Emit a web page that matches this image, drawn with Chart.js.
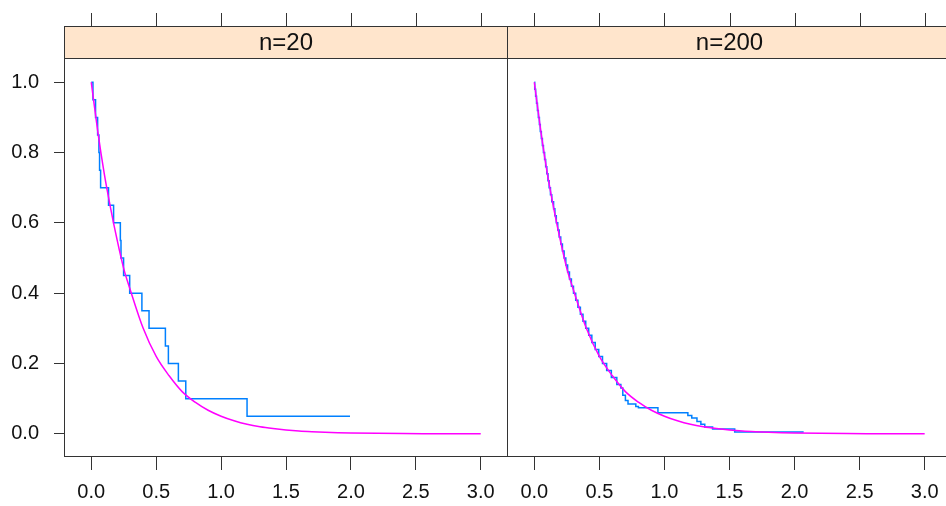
<!DOCTYPE html>
<html>
<head>
<meta charset="utf-8">
<script src="https://cdn.jsdelivr.net/npm/chart.js@4.4.0/dist/chart.umd.min.js"></script>
<style>
  html, body { margin: 0; padding: 0; background: #fff; overflow: hidden; }
  #wrap { position: relative; width: 946px; height: 506px; overflow: hidden; }
  #c1 { position: absolute; left: 0; top: 0; }
  #c2 { position: absolute; left: 500px; top: 0; }
</style>
</head>
<body>
<div id="wrap">
  <canvas id="c1" width="510" height="506"></canvas>
  <canvas id="c2" width="460" height="506"></canvas>
</div>
<script>
// panel labels and axis ticks
const panelLabels = ['n=20', 'n=200'];
const xTicks = [0, 0.5, 1.0, 1.5, 2.0, 2.5, 3.0];
const yTicks = [0, 0.2, 0.4, 0.6, 0.8, 1.0];

// empirical survival, n=20 (drop times and level after drop)
const time20 = [0, 0.013, 0.033, 0.049, 0.059, 0.064, 0.072, 0.133, 0.172, 0.224, 0.229,
  0.249, 0.296, 0.39, 0.445, 0.571, 0.594, 0.671, 0.728, 1.20, 1.993];
const surv20 = [1.0, 0.95, 0.90, 0.85, 0.80, 0.75, 0.70, 0.65, 0.60, 0.55, 0.50,
  0.45, 0.40, 0.35, 0.30, 0.25, 0.20, 0.15, 0.10, 0.05, 0.05];

// empirical survival, n=200
const time200 = [0, 0.003, 0.010, 0.017, 0.024, 0.031, 0.039, 0.046, 0.054, 0.062, 0.070,
  0.079, 0.087, 0.096, 0.105, 0.114, 0.124, 0.134, 0.148, 0.158, 0.169,
  0.180, 0.191, 0.203, 0.216, 0.229, 0.242, 0.256, 0.270, 0.285, 0.301,
  0.318, 0.335, 0.354, 0.374, 0.395, 0.418, 0.442, 0.468, 0.495, 0.524,
  0.556, 0.592, 0.634, 0.665, 0.68, 0.70, 0.72, 0.78, 0.80, 0.95,
  1.18, 1.21, 1.25, 1.28, 1.31, 1.37, 1.54, 2.07];
const surv200 = [1.0, 0.98, 0.96, 0.94, 0.92, 0.90, 0.88, 0.86, 0.84, 0.82, 0.80,
  0.78, 0.76, 0.74, 0.72, 0.70, 0.68, 0.66, 0.64, 0.62, 0.60,
  0.58, 0.56, 0.54, 0.52, 0.50, 0.48, 0.46, 0.44, 0.42, 0.40,
  0.38, 0.36, 0.34, 0.32, 0.30, 0.28, 0.26, 0.24, 0.22, 0.20,
  0.18, 0.16, 0.14, 0.13, 0.11, 0.095, 0.085, 0.078, 0.074, 0.06,
  0.052, 0.045, 0.035, 0.027, 0.019, 0.014, 0.005, 0.005];

// theoretical curve (same in both panels)
const curveX = [0, 0.05, 0.1, 0.15, 0.2, 0.25, 0.3, 0.4, 0.5, 0.6, 0.7, 0.8, 0.9, 1.0,
  1.1, 1.2, 1.3, 1.4, 1.5, 1.6, 1.7, 1.8, 1.9, 2.0, 2.2, 2.4, 2.6, 2.8, 3.0];
const curveY = [1.0, 0.86, 0.74, 0.64, 0.55, 0.47, 0.41, 0.30, 0.22, 0.165, 0.12, 0.09, 0.067, 0.05,
  0.037, 0.027, 0.02, 0.015, 0.011, 0.008, 0.006, 0.0045, 0.0033, 0.0025, 0.0014, 0.0007, 0.0004, 0.0002, 0.0001];

const lineCol = '#333333';
const stripTop = 26;

Chart.defaults.font.family = '"Liberation Sans", Arial, sans-serif';
Chart.defaults.color = '#111111';

function toPoints(xs, ys) {
  let pts = [];
  for (let i = 0; i < xs.length; ++i) {
    pts.push({ x: xs[i], y: ys[i] });
  }
  return pts;
}

// strip, panel box and top tick marks, lattice style
const latticePanel = {
  id: 'latticePanel',
  afterDraw(chart, args, opts) {
    let ctx = chart.ctx;
    let a = chart.chartArea;
    let xs = chart.scales.x;
    let l = Math.round(a.left) + 0.5;
    let r = Math.round(a.right) - 0.5;
    let t = Math.round(a.top) + 0.5;
    let b = Math.round(a.bottom) - 0.5;
    ctx.save();
    ctx.fillStyle = '#ffe5cc';
    ctx.fillRect(l, stripTop + 0.5, r - l, t - stripTop - 0.5);
    ctx.strokeStyle = lineCol;
    ctx.lineWidth = 1;
    ctx.strokeRect(l, stripTop + 0.5, r - l, t - stripTop - 0.5);
    ctx.strokeRect(l, t, r - l, b - t);
    ctx.beginPath();
    xs.ticks.forEach(function (tk) {
      let px = Math.round(xs.getPixelForValue(tk.value)) + 0.5;
      ctx.moveTo(px, 13);
      ctx.lineTo(px, stripTop);
    });
    ctx.stroke();
    ctx.fillStyle = '#111111';
    ctx.font = '24px "Liberation Sans", Arial, sans-serif';
    ctx.textAlign = 'center';
    ctx.textBaseline = 'middle';
    ctx.fillText(opts.label, (a.left + a.right) / 2, 43);
    ctx.restore();
  }
};

function makePanel(id, label, time, surv, showY) {
  let ctx = document.getElementById(id).getContext('2d');
  return new Chart(ctx, {
    type: 'line',
    data: {
      datasets: [{
        data: toPoints(curveX, curveY),
        borderColor: '#ff00ff',
        borderWidth: 1.5,
        pointRadius: 0,
        cubicInterpolationMode: 'monotone',
        fill: false
      }, {
        data: toPoints(time, surv),
        borderColor: '#0080ff',
        borderWidth: 1.5,
        pointRadius: 0,
        stepped: 'before',
        fill: false
      }]
    },
    options: {
      responsive: false,
      animation: false,
      events: [],
      layout: {
        padding: showY ? { top: 58, left: 0, right: 2, bottom: 0 } : { top: 58, left: 7, right: 8, bottom: 0 }
      },
      plugins: {
        legend: { display: false },
        tooltip: { enabled: false },
        latticePanel: { label: label }
      },
      scales: {
        x: {
          type: 'linear',
          min: -0.21,
          max: 3.21,
          afterBuildTicks: function (s) { s.ticks = xTicks.map(v => ({ value: v })); },
          afterFit: function (s) { s.height = 49; },
          border: { display: false },
          grid: { drawOnChartArea: false, drawTicks: true, tickLength: 13, color: lineCol },
          ticks: {
            padding: 10,
            font: { size: 20 },
            callback: v => v.toFixed(1)
          }
        },
        y: {
          type: 'linear',
          display: showY,
          min: -0.066,
          max: 1.069,
          afterBuildTicks: function (s) { s.ticks = yTicks.map(v => ({ value: v })); },
          afterFit: function (s) { if (showY) { s.width = 64; } },
          border: { display: false },
          grid: { drawOnChartArea: false, drawTicks: true, tickLength: 10, color: lineCol },
          ticks: {
            padding: 15,
            font: { size: 20 },
            callback: v => v.toFixed(1)
          }
        }
      }
    },
    plugins: [latticePanel]
  });
}

makePanel('c1', panelLabels[0], time20, surv20, true);
makePanel('c2', panelLabels[1], time200, surv200, false);
</script>
</body>
</html>
